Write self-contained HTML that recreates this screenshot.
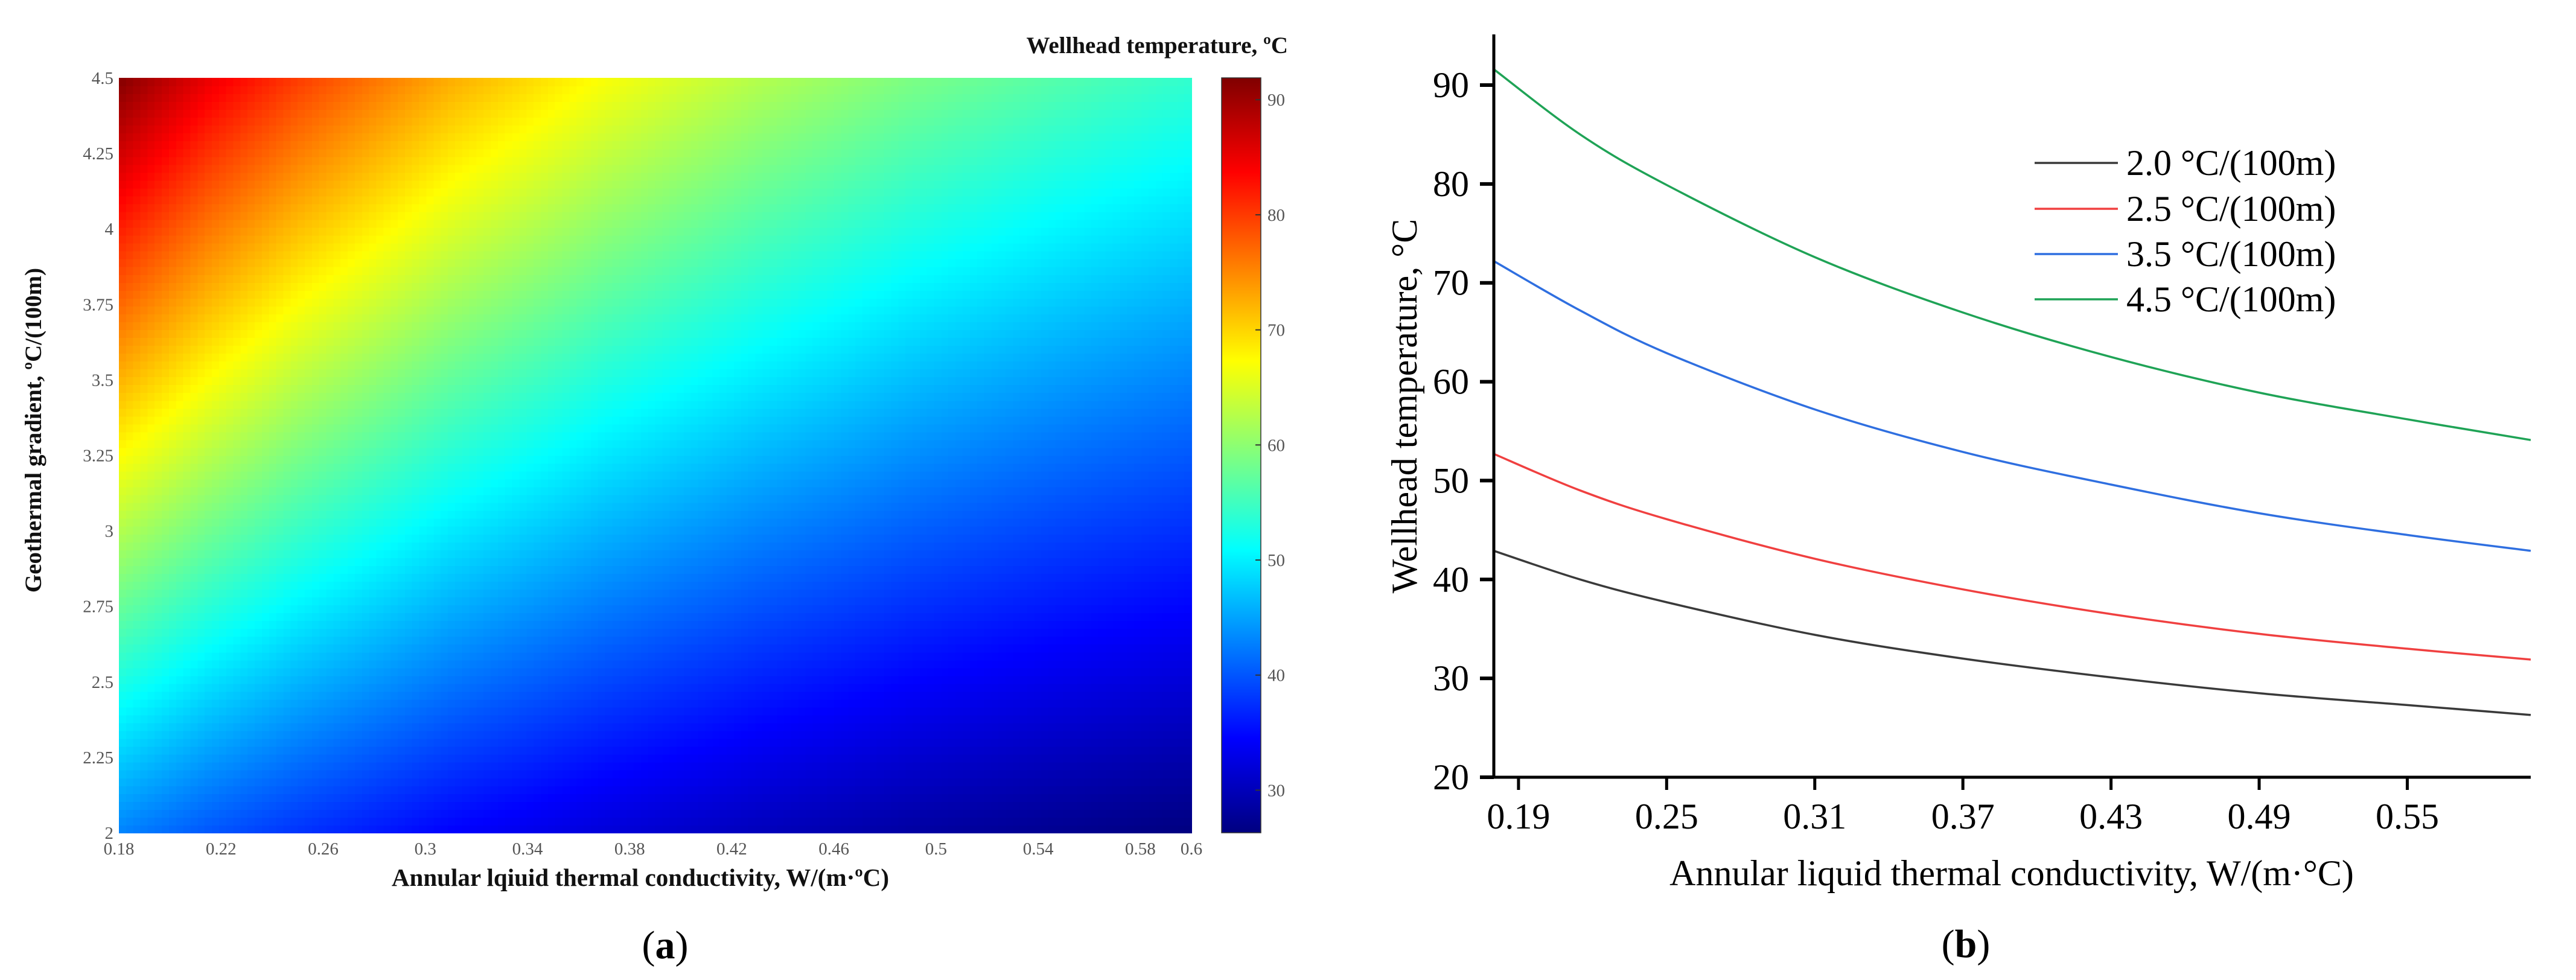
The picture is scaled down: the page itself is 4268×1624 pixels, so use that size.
<!DOCTYPE html>
<html><head><meta charset="utf-8"><style>
html,body{margin:0;padding:0;background:#fff;}
body{width:4268px;height:1624px;overflow:hidden;}
svg{display:block;}
text{font-family:"Liberation Serif",serif;}
</style></head><body>
<svg id="fig" width="4268" height="1624" viewBox="0 0 4268 1624" xmlns="http://www.w3.org/2000/svg">
<defs>
<linearGradient id="jet" x1="0" y1="1" x2="0" y2="0">
<stop offset="0" stop-color="#000080"/><stop offset="0.125" stop-color="#0000ff"/><stop offset="0.375" stop-color="#00ffff"/><stop offset="0.625" stop-color="#ffff00"/><stop offset="0.875" stop-color="#ff0000"/><stop offset="1" stop-color="#800000"/>
</linearGradient>
</defs>
<g id="heat"></g>
<g id="lines"></g>
</svg>
<script>
// ---- data ----
const kVals = [0.18, 0.215, 0.25, 0.31, 0.37, 0.43, 0.49, 0.55, 0.60];
const gradLevels = [2.0, 2.5, 3.5, 4.5];
const series20 = [42.9, 40.0, 37.7, 34.4, 32.0, 30.1, 28.5, 27.3, 26.3];
const series25 = [52.7, 49.0, 46.1, 42.1, 39.0, 36.5, 34.5, 33.0, 31.9];
const series35 = [72.2, 67.2, 62.9, 57.2, 52.9, 49.6, 46.7, 44.5, 42.9];
const series45 = [91.6, 85.0, 79.9, 72.6, 67.0, 62.5, 58.9, 56.2, 54.1];
// heatmap grid rows (gradient) x columns (kVals)
const heatRowsG = [2.0, 2.5, 3.0, 3.5, 4.0, 4.5];
const heatRow20 = [42.9, 40.0, 37.7, 34.4, 32.0, 30.1, 28.5, 27.3, 26.3];
const heatRow25 = [52.7, 49.0, 46.1, 42.1, 39.0, 36.5, 34.5, 33.0, 31.9];
const heatRow30 = [62.4, 58.1, 54.5, 49.6, 46.0, 43.0, 40.6, 38.7, 37.4];
const heatRow35 = [72.2, 67.2, 62.9, 57.2, 52.9, 49.6, 46.7, 44.5, 42.9];
const heatRow40 = [81.9, 76.1, 71.4, 64.9, 60.0, 56.0, 52.8, 50.3, 48.5];
const heatRow45 = [91.6, 85.0, 79.9, 72.6, 67.0, 62.5, 58.9, 56.2, 54.1];
const heatXTicks = ["0.18","0.22","0.26","0.3","0.34","0.38","0.42","0.46","0.5","0.54","0.58","0.6"];
const heatYTicks = ["2","2.25","2.5","2.75","3","3.25","3.5","3.75","4","4.25","4.5"];
const cbarTicks = ["30","40","50","60","70","80","90"];
const lineXTicks = ["0.19","0.25","0.31","0.37","0.43","0.49","0.55"];
const lineYTicks = ["20","30","40","50","60","70","80","90"];
const legendLabels = ["2.0 °C/(100m)","2.5 °C/(100m)","3.5 °C/(100m)","4.5 °C/(100m)"];

const NS="http://www.w3.org/2000/svg";
function mk(tag, attrs, parent, txt){const e=document.createElementNS(NS,tag);for(const k in attrs)e.setAttribute(k,attrs[k]);if(txt!==undefined)e.textContent=txt;parent.appendChild(e);return e;}

// ---------- Heatmap ----------
const H=document.getElementById('heat');
const hx0=197,hx1=1974,hy0=129,hy1=1380;
const kMin=0.18,kMax=0.6,gMin=2,gMax=4.5,cMin=26.3,cMax=91.9;
const hX=k=>hx0+(k-kMin)/(kMax-kMin)*(hx1-hx0);
const hY=g=>hy1-(g-gMin)/(gMax-gMin)*(hy1-hy0);
const heatGrid=[heatRow20,heatRow25,heatRow30,heatRow35,heatRow40,heatRow45];
function interp(arr,xs,x){for(let i=0;i<xs.length-1;i++){if(x<=xs[i+1]){const t=(x-xs[i])/(xs[i+1]-xs[i]);return arr[i]+t*(arr[i+1]-arr[i]);}}return arr[arr.length-1];}
function value(k,g){const rowVals=heatGrid.map(r=>interp(r,kVals,k));return interp(rowVals,heatRowsG,g);}
function jet(t){t=Math.max(0,Math.min(1,t));const c=v=>Math.round(255*Math.max(0,Math.min(1,v)));return `rgb(${c(1.5-Math.abs(4*t-3))},${c(1.5-Math.abs(4*t-2))},${c(1.5-Math.abs(4*t-1))})`;}
const NC=150,NR=96;
const cellG=mk('g',{'shape-rendering':'crispEdges'},H);


for(let j=0;j<NR;j++){for(let i=0;i<NC;i++){
  const k=kMin+(i+0.5)/NC*(kMax-kMin), g=gMin+(j+0.5)/NR*(gMax-gMin);
  const xa=hX(kMin+i/NC*(kMax-kMin)), xb=hX(kMin+(i+1)/NC*(kMax-kMin));
  const ya=hY(gMin+(j+1)/NR*(gMax-gMin)), yb=hY(gMin+j/NR*(gMax-gMin));
  const r=mk('rect',{x:xa.toFixed(1),y:ya.toFixed(1),width:(xb-xa+1).toFixed(1),height:(yb-ya+1).toFixed(1),fill:jet((value(k,g)-cMin)/(cMax-cMin))},cellG);
  
  
}}
heatXTicks.forEach(s=>{const t=mk('text',{x:hX(parseFloat(s)),y:1416,'font-size':29,fill:'#555','text-anchor':'middle'},H,s);
  
  });
heatYTicks.forEach(s=>{const t=mk('text',{x:188,y:hY(parseFloat(s))+10,'font-size':29,fill:'#555','text-anchor':'end'},H,s);
  
  });
let t1=mk('text',{x:1061,y:1468,'font-size':41,'font-weight':'bold','text-anchor':'middle',fill:'#111'},H,'Annular lqiuid thermal conductivity, W/(m·ºC)');


let t2=mk('text',{x:0,y:0,'font-size':39,'font-weight':'bold','text-anchor':'middle',fill:'#111',transform:'translate(68,713) rotate(-90)'},H,'Geothermal gradient, ºC/(100m)');


// colorbar
const cbx=2024,cbw=65;
const cbY=v=>hy1-(v-cMin)/(cMax-cMin)*(hy1-hy0);
let cb=mk('rect',{x:cbx,y:hy0,width:cbw,height:hy1-hy0,fill:'url(#jet)',stroke:'#333','stroke-width':1.5},H);


cbarTicks.forEach(s=>{const y=cbY(parseFloat(s));
  mk('line',{x1:cbx+cbw-9,x2:cbx+cbw,y1:y,y2:y,stroke:'#333','stroke-width':2},H);
  const t=mk('text',{x:cbx+cbw+11,y:y+10,'font-size':29,fill:'#555'},H,s);
  
  });
let t3=mk('text',{x:2134,y:88,'font-size':39,'font-weight':'bold','text-anchor':'end',fill:'#111'},H,'Wellhead temperature, ºC');


let t4=mk('text',{x:1102,y:1588,'font-size':66,'text-anchor':'middle',fill:'#000'},H,'');


mk('tspan',{},t4,'(');mk('tspan',{'font-weight':'bold'},t4,'a');mk('tspan',{},t4,')');

// ---------- Line chart ----------
const L=document.getElementById('lines');
const lx0=2475,lx1=4193,ly20=1288,ly90=141;
const lxMin=0.18,lxMax=0.60;
const lX=k=>lx0+(k-lxMin)/(lxMax-lxMin)*(lx1-lx0);
const lY=v=>ly20-(v-20)/(90-20)*(ly20-ly90);
const colors=['#3a3a3a','#f04040','#2f6fe0','#1fa356'];
const allSeries=[series20,series25,series35,series45];
function smoothPath(xs,ys){const p=xs.map((x,i)=>[lX(x),lY(ys[i])]);let d=`M${p[0][0].toFixed(1)},${p[0][1].toFixed(1)}`;
  for(let i=0;i<p.length-1;i++){const p0=p[Math.max(0,i-1)],p1=p[i],p2=p[i+1],p3=p[Math.min(p.length-1,i+2)];
    const c1=[p1[0]+(p2[0]-p0[0])/6,p1[1]+(p2[1]-p0[1])/6],c2=[p2[0]-(p3[0]-p1[0])/6,p2[1]-(p3[1]-p1[1])/6];
    d+=` C${c1[0].toFixed(1)},${c1[1].toFixed(1)} ${c2[0].toFixed(1)},${c2[1].toFixed(1)} ${p2[0].toFixed(1)},${p2[1].toFixed(1)}`;}
  return d;}
allSeries.forEach((s,i)=>{const p=mk('path',{d:smoothPath(kVals,s),fill:'none',stroke:colors[i],'stroke-width':3.5},L);
  
  });
// axes
let ya=mk('line',{x1:lx0,x2:lx0,y1:57,y2:ly20+2,stroke:'#000','stroke-width':5},L);


let xa=mk('line',{x1:lx0-2,x2:lx1,y1:ly20,y2:ly20,stroke:'#000','stroke-width':5},L);


lineYTicks.forEach(s=>{const y=lY(parseFloat(s));
  mk('line',{x1:lx0-23,x2:lx0,y1:y,y2:y,stroke:'#000','stroke-width':6},L);
  const t=mk('text',{x:2434,y:y+20,'font-size':60,'text-anchor':'end',fill:'#000'},L,s);
  
  });
lineXTicks.forEach(s=>{const x=lX(parseFloat(s));
  mk('line',{x1:x,x2:x,y1:ly20,y2:ly20+21,stroke:'#000','stroke-width':5},L);
  const t=mk('text',{x:x,y:1373,'font-size':60,'text-anchor':'middle',fill:'#000'},L,s);
  
  });
let t5=mk('text',{x:3333,y:1467,'font-size':60,'text-anchor':'middle',fill:'#000'},L,'Annular liquid thermal conductivity, W/(m·°C)');


let t6=mk('text',{x:0,y:0,'font-size':60,'text-anchor':'middle',fill:'#000',transform:'translate(2347,673) rotate(-90)'},L,'Wellhead temperature, °C');


// legend
const legY=[270,346,421,496];
legendLabels.forEach((s,i)=>{const g=mk('g',{},L);
  
  
  mk('line',{x1:3371,x2:3509,y1:legY[i],y2:legY[i],stroke:colors[i],'stroke-width':3.5},g);
  mk('text',{x:3523,y:legY[i]+20,'font-size':60,fill:'#000'},g,s);});
let t7=mk('text',{x:3257,y:1586,'font-size':66,'text-anchor':'middle',fill:'#000'},L,'');


mk('tspan',{},t7,'(');mk('tspan',{'font-weight':'bold'},t7,'b');mk('tspan',{},t7,')');
</script>
</body></html>
